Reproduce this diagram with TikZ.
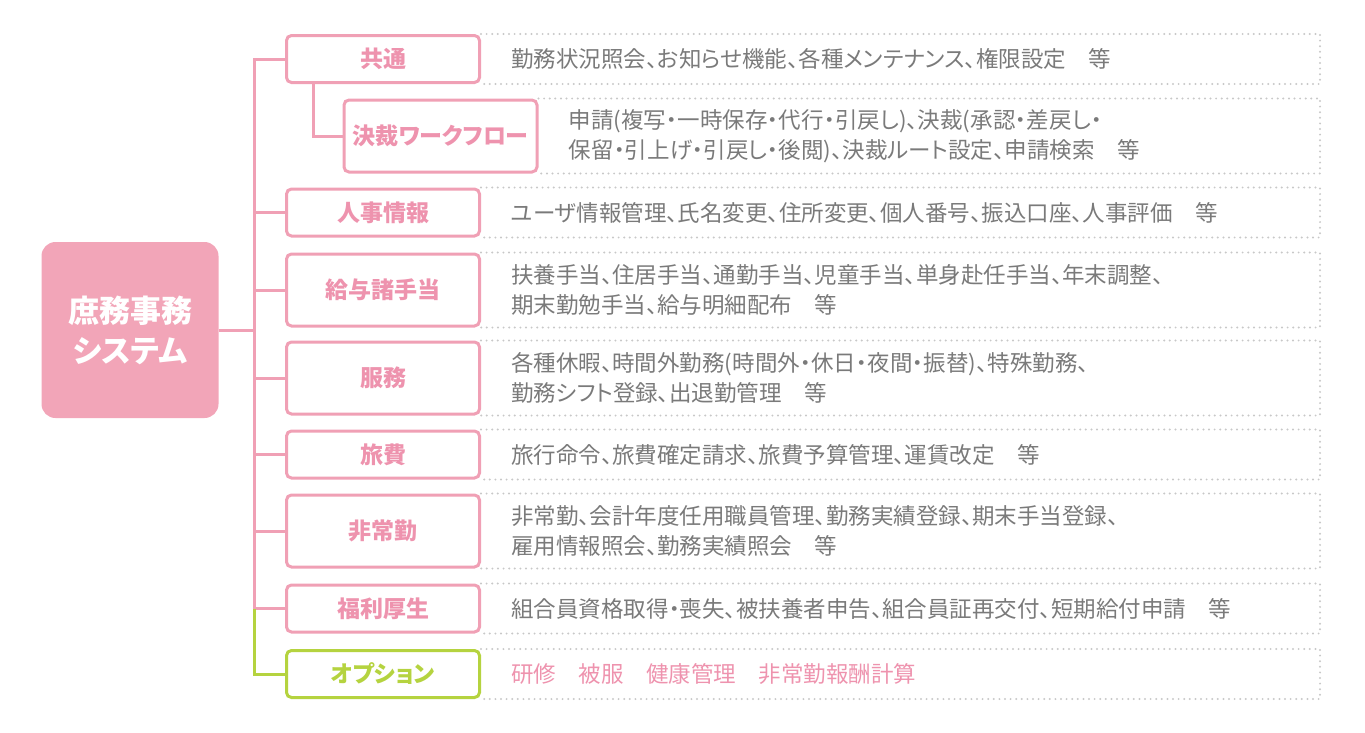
\documentclass[tikz,border=0pt]{standalone}
\usepackage{fontspec}
\setmainfont{Noto Sans CJK JP}[RawFeature=+palt]
\usetikzlibrary{positioning}
\definecolor{syspink}{HTML}{F2A5B8}
\definecolor{linepink}{HTML}{F0A0B5}
\definecolor{labelpink}{HTML}{EE93AE}
\definecolor{optgreen}{HTML}{B5D33F}
\definecolor{desctext}{HTML}{7A7A7A}
\definecolor{dotgray}{HTML}{C8C8C8}
\begin{document}
\begin{tikzpicture}[x=1pt, y=-1pt,
    system/.style={fill=syspink, rounded corners=14pt, minimum width=177pt, minimum height=176pt, align=center, text=white, font=\fontsize{31}{40}\selectfont\bfseries},
    category/.style={draw=linepink, line width=3pt, rounded corners=5pt, fill=white, minimum width=193pt, minimum height=47pt, text=labelpink, font=\fontsize{23}{27}\selectfont\bfseries},
    tall/.style={minimum height=72pt},
    optbox/.style={category, draw=optgreen, text=optgreen},
    desc/.style={align=left, inner sep=0pt, text=desctext, font=\fontsize{22.5}{30}\selectfont},
    dotframe/.style={dotgray, line width=2.2pt, line cap=round, dash pattern=on 0pt off 5.6pt},
    link/.style={linepink, line width=3pt}
]
    \useasboundingbox (0,0) rectangle (1365,732);
    \coordinate (trunk) at (254,0);
    \coordinate (branch) at (313,0);
    \coordinate (edge) at (1320,0);

    % system at the left
    \node[system] (sys) at (130,330) {庶務事務\\システム};

    % categories
    \node[category] (kyotsu) at (383,59) {共通};
    \node[category, tall] (kessai) at (440.5,136) {決裁ワークフロー};
    \node[category] (jinji) at (383,212.5) {人事情報};
    \node[category, tall] (kyuyo) at (383,290) {給与諸手当};
    \node[category, tall] (fukumu) at (383,378) {服務};
    \node[category] (ryohi) at (383,454.5) {旅費};
    \node[category, tall] (hijokin) at (383,531) {非常勤};
    \node[category] (fukuri) at (383,608.5) {福利厚生};
    \node[optbox] (option) at (383,674) {オプション};

    % tree lines
    \draw[link] (sys.east) -- (sys.east -| trunk);
    \draw[link] (kyotsu.west) -| (fukuri.west -| trunk);
    \draw[link] (kyotsu.south -| branch) |- (kessai.west);
    \draw[link] (jinji.west) -- (jinji.west -| trunk);
    \draw[link] (kyuyo.west) -- (kyuyo.west -| trunk);
    \draw[link] (fukumu.west) -- (fukumu.west -| trunk);
    \draw[link] (ryohi.west) -- (ryohi.west -| trunk);
    \draw[link] (hijokin.west) -- (hijokin.west -| trunk);
    \draw[link] (fukuri.west) -- (fukuri.west -| trunk);
    \draw[link, optgreen] (fukuri.west -| trunk) |- (option.west);

    % dotted frames
    \draw[dotframe] (kyotsu.north east) -- (kyotsu.north east -| edge) -- (kyotsu.south east -| edge) -- (kyotsu.south east);
    \draw[dotframe] (kessai.north east) -- (kessai.north east -| edge) -- (kessai.south east -| edge) -- (kessai.south east);
    \draw[dotframe] (jinji.north east) -- (jinji.north east -| edge) -- (jinji.south east -| edge) -- (jinji.south east);
    \draw[dotframe] (kyuyo.north east) -- (kyuyo.north east -| edge) -- (kyuyo.south east -| edge) -- (kyuyo.south east);
    \draw[dotframe] (fukumu.north east) -- (fukumu.north east -| edge) -- (fukumu.south east -| edge) -- (fukumu.south east);
    \draw[dotframe] (ryohi.north east) -- (ryohi.north east -| edge) -- (ryohi.south east -| edge) -- (ryohi.south east);
    \draw[dotframe] (hijokin.north east) -- (hijokin.north east -| edge) -- (hijokin.south east -| edge) -- (hijokin.south east);
    \draw[dotframe] (fukuri.north east) -- (fukuri.north east -| edge) -- (fukuri.south east -| edge) -- (fukuri.south east);
    \draw[dotframe] (option.north east) -- (option.north east -| edge) -- (option.south east -| edge) -- (option.south east);

    % descriptions
    \node[desc, right=30pt of kyotsu] (kyotsu-d) {勤務状況照会、お知らせ機能、各種メンテナンス、権限設定　等};
    \node[desc, right=30pt of kessai] (kessai-d) {申請(複写・一時保存・代行・引戻し)、決裁(承認・差戻し・\\保留・引上げ・引戻し・後閲)、決裁ルート設定、申請検索　等};
    \node[desc, right=30pt of jinji] (jinji-d) {ユーザ情報管理、氏名変更、住所変更、個人番号、振込口座、人事評価　等};
    \node[desc, right=30pt of kyuyo] (kyuyo-d) {扶養手当、住居手当、通勤手当、児童手当、単身赴任手当、年末調整、\\期末勤勉手当、給与明細配布　等};
    \node[desc, right=30pt of fukumu] (fukumu-d) {各種休暇、時間外勤務(時間外・休日・夜間・振替)、特殊勤務、\\勤務シフト登録、出退勤管理　等};
    \node[desc, right=30pt of ryohi] (ryohi-d) {旅行命令、旅費確定請求、旅費予算管理、運賃改定　等};
    \node[desc, right=30pt of hijokin] (hijokin-d) {非常勤、会計年度任用職員管理、勤務実績登録、期末手当登録、\\雇用情報照会、勤務実績照会　等};
    \node[desc, right=30pt of fukuri] (fukuri-d) {組合員資格取得・喪失、被扶養者申告、組合員証再交付、短期給付申請　等};
    \node[desc, text=labelpink, right=30pt of option] (option-d) {研修　被服　健康管理　非常勤報酬計算};
\end{tikzpicture}
\end{document}
